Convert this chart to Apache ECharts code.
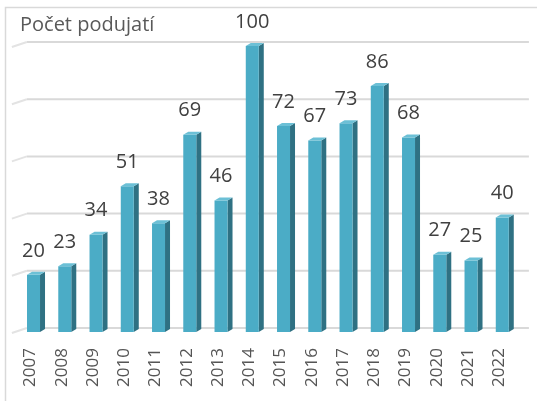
<!DOCTYPE html>
<html>
<head>
<meta charset="utf-8">
<script src="https://cdn.jsdelivr.net/npm/echarts@6/dist/echarts.min.js"></script>
<style>
html,body{margin:0;padding:0;background:#fff;}
#chart{width:537px;height:401px;}
</style>
</head>
<body>
<div id="chart"></div>
<script>
const years = ['2007','2008','2009','2010','2011','2012','2013','2014','2015','2016','2017','2018','2019','2020','2021','2022'];
const counts = [20,23,34,51,38,69,46,100,72,67,73,86,68,27,25,40];
const yTicks = [0,20,40,60,80,100];
const titleText = 'Počet podujatí';

const chart = echarts.init(document.getElementById('chart'));

function renderGridLine(params, api) {
  const cs = params.coordSys;
  const y = api.coord([0, api.value(1)])[1] - 4;
  return {
    type: 'group',
    children: [
      {type:'line', shape:{x1:cs.x+9, y1:y, x2:cs.x+cs.width+11, y2:y}, style:{stroke:'#D9D9D9', lineWidth:2}},
      {type:'line', shape:{x1:cs.x-6, y1:y+5, x2:cs.x+9, y2:y}, style:{stroke:'#E3E3E3', lineWidth:2}}
    ]
  };
}

function renderBar(params, api) {
  const v = api.value(1);
  const p = api.coord([api.value(0), v]);
  const b = api.coord([api.value(0), 0]);
  const x0 = p[0] - 6.5;
  const yT = p[1], yB = b[1];
  return {
    type: 'group',
    children: [
      {type:'polygon', shape:{points:[[x0+13,yT],[x0+18,yT-3],[x0+18,yB-3],[x0+13,yB]]}, style:{fill:'#2F7183'}},
      {type:'rect', shape:{x:x0, y:yT, width:13, height:yB-yT}, style:{fill:'#4BACC6'}},
      {type:'polygon', shape:{points:[[x0,yT],[x0+5,yT-3],[x0+18,yT-3],[x0+13,yT]]}, style:{fill:'#6CC0D6'}},
      {type:'text', style:{text:String(v), x:p[0], y:yT-24, align:'center', verticalAlign:'middle', fontSize:20, fontFamily:'Open Sans', fill:'#404040'}}
    ]
  };
}

const option = {
  animation: false,
  graphic: [
    {type:'rect', shape:{x:5.5, y:7.5, width:600, height:500}, style:{fill:null, stroke:'#D9D9D9', lineWidth:1.5}, silent:true},
    {type:'text', left:20, top:15, style:{text:titleText, fontSize:20, fontFamily:'Open Sans', fill:'#595959'}}
  ],
  grid: [
    {left:17.9, right:19.1, top:46, bottom:69},
    {left:14.9, right:22.1, top:46, bottom:69}
  ],
  xAxis: [
    {type:'category', data: years, gridIndex:0, axisLine:{show:false}, axisTick:{show:false}, axisLabel:{show:false}},
    {type:'category', data: years, gridIndex:1, axisLine:{show:false}, axisTick:{show:false},
     axisLabel:{rotate:90, margin:16, fontSize:17, color:'#555555', fontFamily:'Open Sans', interval:0}}
  ],
  yAxis: [
    {type:'value', min:0, max:100, interval:20, show:false, splitLine:{show:false}, gridIndex:0},
    {type:'value', min:0, max:100, interval:20, show:false, splitLine:{show:false}, gridIndex:1}
  ],
  series: [
    {type:'custom', xAxisIndex:0, yAxisIndex:0, data: yTicks.map(v => [0, v]), renderItem: renderGridLine, z:1, silent:true},
    {type:'custom', xAxisIndex:0, yAxisIndex:0, data: counts.map((v, i) => [i, v]), renderItem: renderBar, z:2}
  ]
};
chart.setOption(option);
</script>
</body>
</html>
